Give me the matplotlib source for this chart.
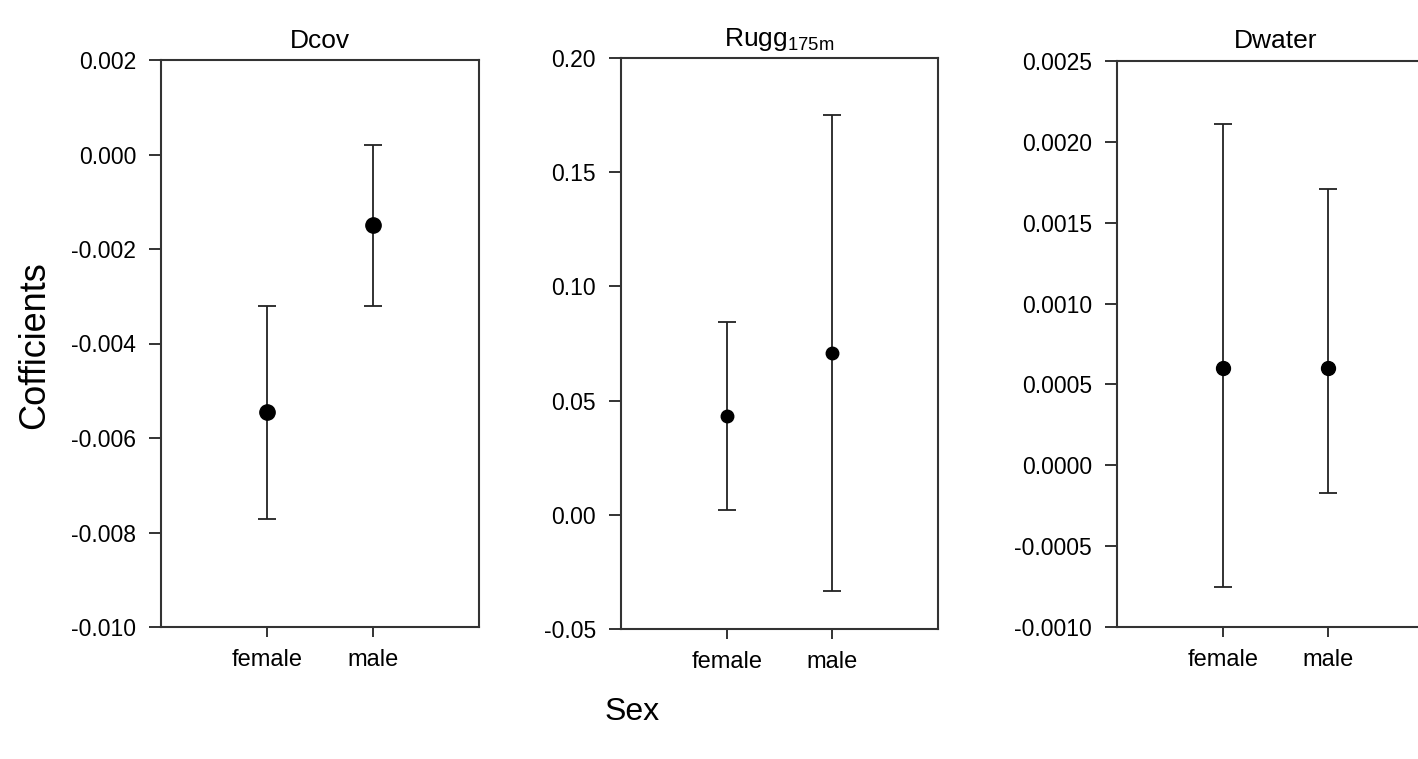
import matplotlib
matplotlib.use("Agg")
import matplotlib.pyplot as plt
from matplotlib.ticker import FormatStrFormatter, MultipleLocator

plt.rcParams['font.family'] = ['Liberation Sans', 'DejaVu Sans']
plt.rcParams['axes.unicode_minus'] = False

# data: estimate with lower / upper limits
sexes = ["female", "male"]

dcov_est = [-0.00546, -0.00150]
dcov_lo = [-0.00772, -0.00320]
dcov_hi = [-0.00320, 0.00020]

rugg_est = [0.0433, 0.0710]
rugg_lo = [0.0021, -0.0332]
rugg_hi = [0.0845, 0.1750]

dwater_est = [0.00060, 0.00060]
dwater_lo = [-0.00075, -0.00017]
dwater_hi = [0.00211, 0.00171]

titles = ["Dcov", r"Rugg$_\mathregular{175m}$", "Dwater"]
ylims = [(-0.010, 0.002), (-0.05, 0.20), (-0.0010, 0.0025)]
ysteps = [0.002, 0.05, 0.0005]
yfmts = ["%.3f", "%.2f", "%.4f"]
msizes = [11, 9, 10]

# axes boxes in figure pixels (left, top, right, bottom), fig 1418x759
W, H = 1418, 759
boxes = [(161, 60, 479, 627), (621, 58, 938, 629), (1117, 61, 1434, 627)]

fig = plt.figure(figsize=(W / 100, H / 100), dpi=100)

data = [(dcov_est, dcov_lo, dcov_hi),
        (rugg_est, rugg_lo, rugg_hi),
        (dwater_est, dwater_lo, dwater_hi)]
xs = [1, 2]

for i, (l, t, r, b) in enumerate(boxes):
    ax = fig.add_axes([l / W, 1 - b / H, (r - l) / W, (b - t) / H])
    est, lo, hi = data[i]
    yerr = [[e - a for e, a in zip(est, lo)], [h - e for e, h in zip(est, hi)]]
    ax.errorbar(xs, est, yerr=yerr, fmt='o', color='black', ms=msizes[i],
                ecolor='#222222', elinewidth=1.3, capsize=6.5, capthick=1.3)
    ax.set_xlim(0, 3)
    ax.set_ylim(*ylims[i])
    ax.set_xticks(xs)
    ax.set_xticklabels(sexes, fontsize=17)
    ax.yaxis.set_major_locator(MultipleLocator(ysteps[i]))
    ax.yaxis.set_major_formatter(FormatStrFormatter(yfmts[i]))
    ax.tick_params(axis='y', labelsize=16.5, length=9, width=1.4, direction='out',
                   color='#333333', pad=9)
    ax.tick_params(axis='x', length=7, width=1.4, direction='out',
                   color='#333333', pad=9)
    for s in ax.spines.values():
        s.set_linewidth(1.5)
        s.set_color('#333333')
    ax.set_title(titles[i], fontsize=19, pad=9)

fig.text(35 / W, 1 - 345 / H, "Cofficients", rotation=90, fontsize=26,
         ha='center', va='center')
fig.text(632 / W, 1 - 712 / H, "Sex", fontsize=23, ha='center', va='center')

fig.savefig("out.png", dpi=100)
